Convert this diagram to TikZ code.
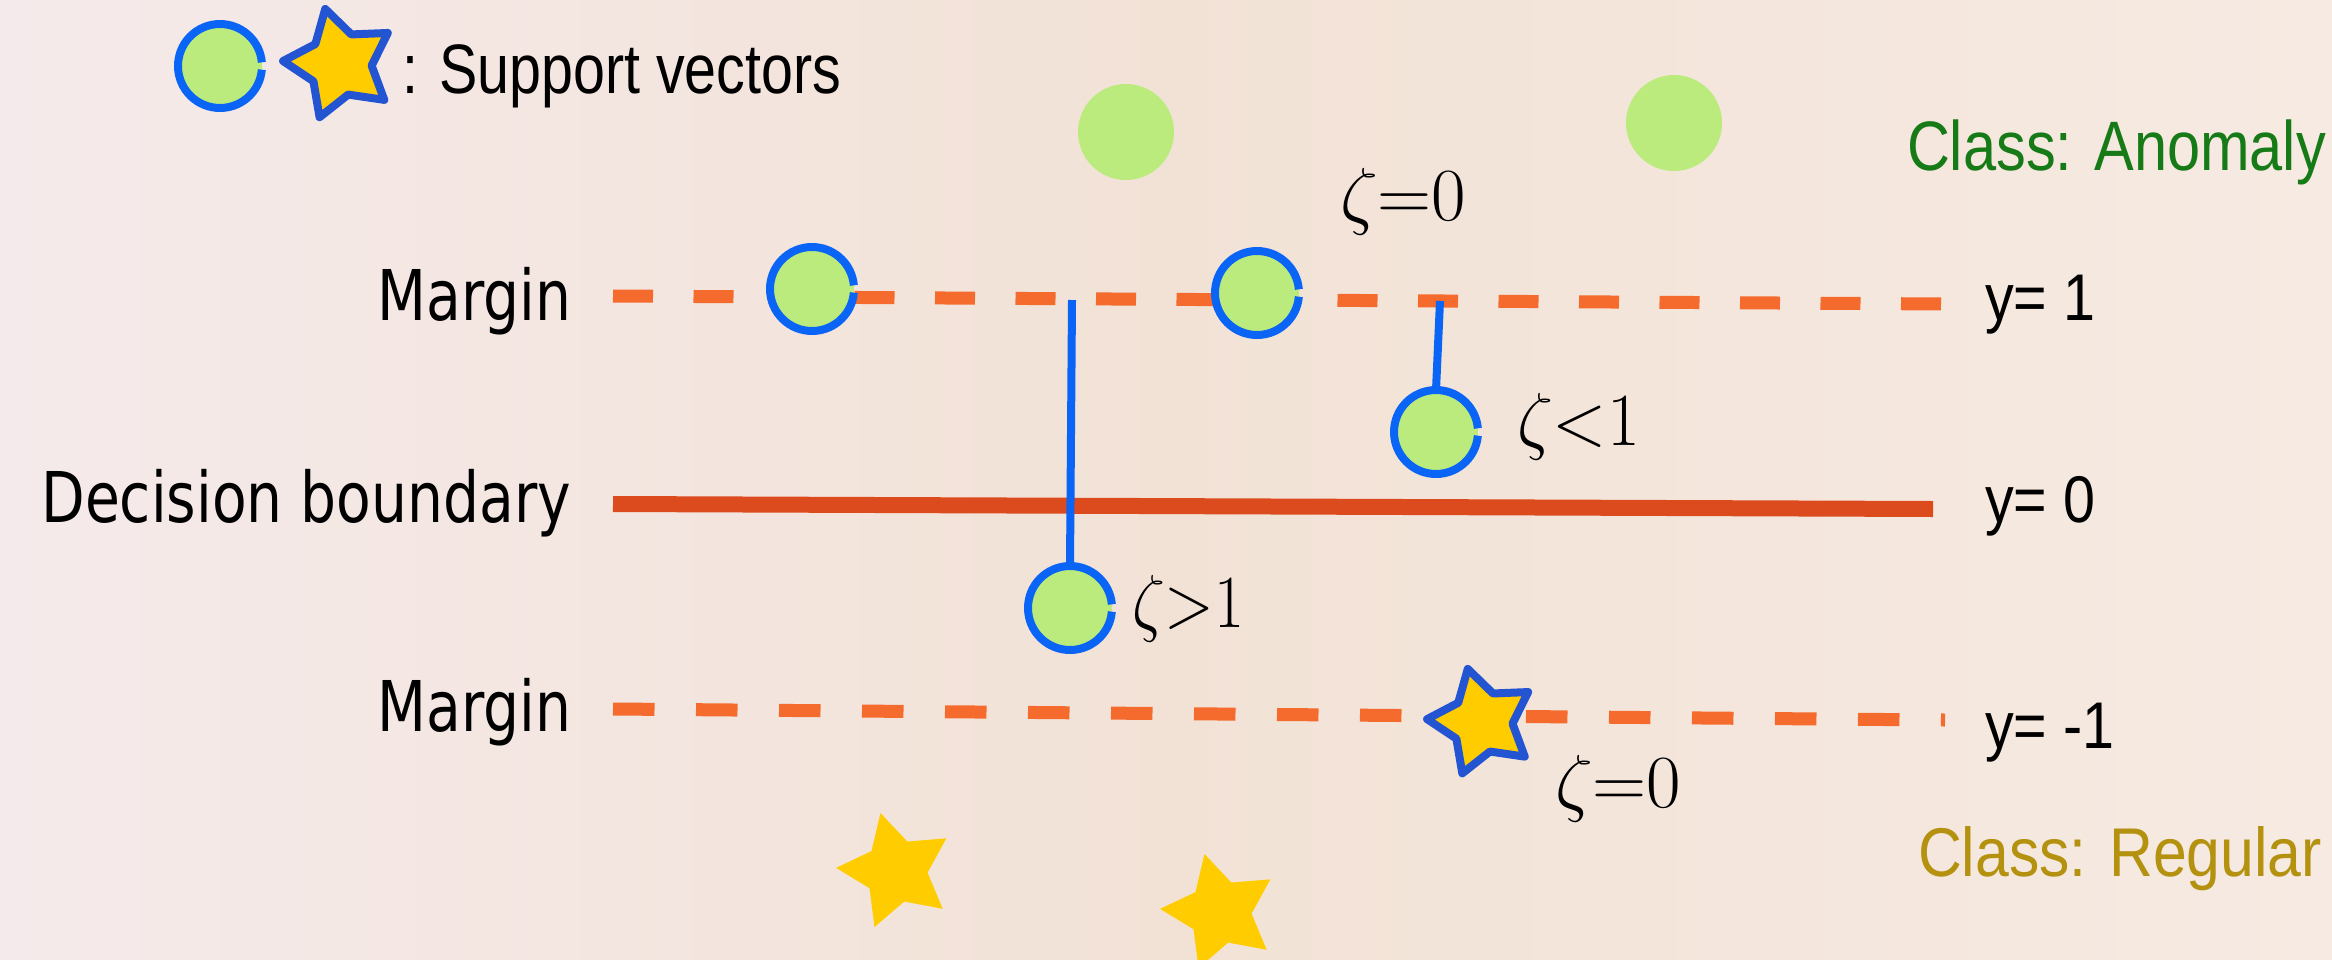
\RequirePackage{fix-cm}
\documentclass[tikz,border=0pt]{standalone}
\usepackage{fontspec}
\usepackage{graphicx}
\usetikzlibrary{shapes.geometric}
\newfontfamily\labfont{DejaVu Sans}
\newfontfamily\arialfont{Liberation Sans}
\definecolor{bgL}{RGB}{245,234,235}
\definecolor{bgM}{RGB}{242,226,214}
\definecolor{bgR}{RGB}{246,234,226}
\definecolor{ptgreen}{RGB}{187,235,124}
\definecolor{svblue}{RGB}{10,100,245}
\definecolor{starblue}{RGB}{35,85,210}
\definecolor{stargold}{RGB}{255,204,0}
\definecolor{dashorange}{RGB}{245,107,45}
\definecolor{lineorange}{RGB}{220,75,30}
\definecolor{anomgreen}{RGB}{22,122,22}
\definecolor{reggold}{RGB}{180,145,15}
\newcommand{\cond}[2]{\scalebox{#1}[1]{#2}}
\begin{document}
\begin{tikzpicture}[x=1pt,y=-1pt,
  lab/.style={font=\labfont\fontsize{70}{80}\selectfont, inner sep=0, outer sep=0, text=black},
  rlab/.style={font=\arialfont\fontsize{66}{76}\selectfont, inner sep=0, outer sep=0, text=black},
  zlab/.style={font=\fontsize{75}{85}\selectfont, inner sep=0, outer sep=0, text=black},
  margline/.style={dashorange, line width=13pt},
  decline/.style={lineorange, line width=16pt},
  vline/.style={svblue, line width=8pt},
  plaindot/.style={circle, fill=ptgreen, inner sep=0, outer sep=0, minimum size=96pt},
  svdot/.style={circle, fill=ptgreen, inner sep=0, outer sep=0, minimum size=84pt},
  svring/.style={svblue, line width=8pt},
  plainstar/.style={star, star points=5, star point ratio=1.9, shape border rotate=15, fill=stargold, inner sep=0, outer sep=0, minimum size=120pt},
  svstar/.style={star, star points=5, star point ratio=1.8, shape border rotate=15, fill=stargold, draw=starblue, line width=8pt, line join=round, inner sep=0, outer sep=0, minimum size=110pt}
]
\useasboundingbox (0,0) rectangle (2332,959);
\shade[left color=bgL, right color=bgR, middle color=bgM] (0,0) rectangle (2332,959);

% margin and boundary lines
\coordinate (ul) at (613,296);
\coordinate (ur) at (1945,304);
\coordinate (dl) at (613,504);
\coordinate (dr) at (1933,509);
\coordinate (ll) at (613,709);
\coordinate (lr) at (1945,720);
\draw[margline, dash pattern=on 40pt off 40.5pt] (ul) -- (ur);
\draw[decline] (dl) -- (dr);
\draw[margline, dash pattern=on 41.5pt off 41.5pt] (ll) -- (lr);

% points
\node[plaindot] (p1) at (1126,132) {};
\node[plaindot] (p2) at (1674,123) {};
\node[svdot] (cl) at (220,66) {};
\node[svdot] (c1) at (812,289) {};
\node[svdot] (c2) at (1257,293) {};
\node[svdot] (c3) at (1436,432) {};
\node[svdot] (c4) at (1070,608) {};
\node[svstar, minimum size=114pt] (sl) at (340,64) {};
\node[svstar] (s1) at (1482,722) {};
\node[plainstar] (s2) at (896,871) {};
\node[plainstar] (s3) at (1220,912) {};

% slack connectors
\coordinate (u1) at (1072,300);
\coordinate (u2) at (1440,301);
\draw[vline] (u1) -- (c4.north);
\draw[vline] (u2) -- (c3.north);

% rings of support vectors
\foreach \c in {cl,c1,c2,c3,c4}{
  \draw[svring] ([shift={(5:42)}]\c.center) arc[start angle=5, end angle=355, radius=42];
}

% texts
\node[lab, anchor=base east] (mU) at (571,320) {\cond{0.81}{Margin}};
\node[lab, anchor=base east] (dB) at (571,522) {\cond{0.81}{Decision boundary}};
\node[lab, anchor=base east] (mL) at (571,731) {\cond{0.81}{Margin}};
\node[rlab, anchor=base west] (y1) at (1985,320) {\cond{0.87}{y= 1}};
\node[rlab, anchor=base west] (y0) at (1985,522) {\cond{0.87}{y= 0}};
\node[rlab, anchor=base west] (ym) at (1985,748) {\cond{0.87}{y= -1}};
\node[rlab, anchor=base west, text=anomgreen, font=\arialfont\fontsize{70}{80}\selectfont] (ca) at (1907,170) {\cond{0.85}{Class: Anomaly}};
\node[rlab, anchor=base west, text=reggold, font=\arialfont\fontsize{69}{80}\selectfont] (cr) at (1918,876) {\cond{0.88}{Class: Regular}};
\node[rlab, anchor=base west, font=\arialfont\fontsize{70}{80}\selectfont] (leg) at (402,93) {\cond{0.82}{: Support vectors}};
\node[zlab, anchor=base west] (z1) at (1340,220) {$\zeta{=}0$};
\node[zlab, anchor=base west] (z2) at (1517,445) {\cond{0.95}{$\zeta{<}1$}};
\node[zlab, anchor=base west] (z3) at (1132,627) {\cond{0.87}{$\zeta{>}1$}};
\node[zlab, anchor=base west] (z4) at (1555,807) {$\zeta{=}0$};
\end{tikzpicture}
\end{document}
